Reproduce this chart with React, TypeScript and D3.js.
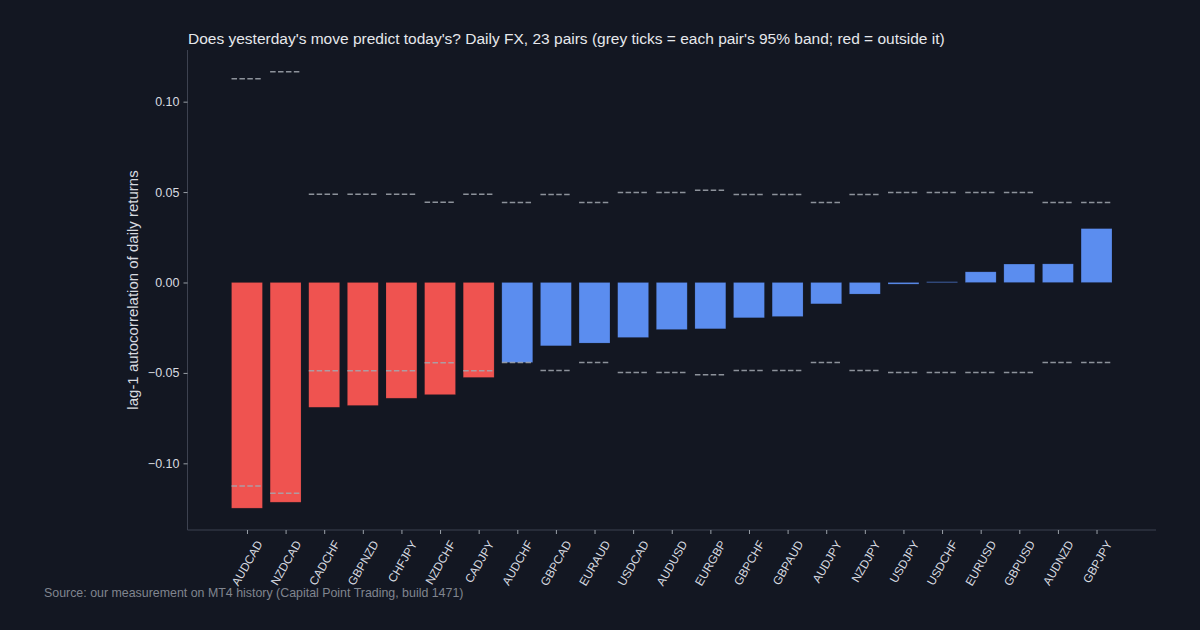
import React, { useEffect, useRef } from 'react';
import * as d3 from 'd3';

// pairs sorted by lag-1 autocorrelation
const pairs = [
  'AUDCAD', 'NZDCAD', 'CADCHF', 'GBPNZD', 'CHFJPY', 'NZDCHF', 'CADJPY', 'AUDCHF',
  'GBPCAD', 'EURAUD', 'USDCAD', 'AUDUSD', 'EURGBP', 'GBPCHF', 'GBPAUD', 'AUDJPY',
  'NZDJPY', 'USDJPY', 'USDCHF', 'EURUSD', 'GBPUSD', 'AUDNZD', 'GBPJPY',
];
const autocorr = [
  -0.1248, -0.1215, -0.069, -0.068, -0.064, -0.062, -0.0525, -0.0442,
  -0.035, -0.0335, -0.0304, -0.026, -0.0256, -0.0195, -0.0188, -0.0118,
  -0.0064, -0.0009, 0.0004, 0.0059, 0.0102, 0.0103, 0.0298,
];
// half-width of each pair's 95% band (1.96 / sqrt(n))
const band = [
  0.1126, 0.1165, 0.0488, 0.0488, 0.0488, 0.0444, 0.0488, 0.0443,
  0.0487, 0.0443, 0.0498, 0.0498, 0.051, 0.0487, 0.0487, 0.0443,
  0.0487, 0.0498, 0.0498, 0.0498, 0.0498, 0.0443, 0.0443,
];
const yTicks = [-0.1, -0.05, 0, 0.05, 0.1];

const W = 1200;
const H = 630;
const BG = '#131722';
const RED = '#ef5350';
const BLUE = '#5b8def';
const FONT = '"Liberation Sans", Arial, sans-serif';

const App = () => {
  const svgRef = useRef<SVGSVGElement | null>(null);

  useEffect(() => {
    const svg = d3.select(svgRef.current);
    svg.selectAll('*').remove();

    const margin = { top: 50, right: 44, bottom: 100, left: 187.5 };
    const data = pairs.map((p, i) => ({ pair: p, i, v: autocorr[i], b: band[i] }));

    // matplotlib-style 5% auto margins
    const lo = d3.min(data, d => Math.min(d.v, -d.b)) as number;
    const hi = d3.max(data, d => Math.max(d.v, d.b)) as number;
    const pad = (hi - lo) * 0.05;
    const y = d3.scaleLinear().domain([lo - pad, hi + pad]).range([H - margin.bottom, margin.top]);

    const barW = 0.8;
    const xlo = -barW / 2, xhi = pairs.length - 1 + barW / 2;
    const xpad = (xhi - xlo) * 0.05;
    const x = d3.scaleLinear().domain([xlo - xpad, xhi + xpad]).range([margin.left, W - margin.right]);
    const bw = x(barW) - x(0);

    svg.append('rect').attr('width', W).attr('height', H).attr('fill', BG);

    svg.selectAll('.bar')
      .data(data)
      .enter()
      .append('rect')
      .attr('class', 'bar')
      .attr('x', d => x(d.i) - bw / 2)
      .attr('y', d => y(Math.max(0, d.v)))
      .attr('width', bw)
      .attr('height', d => Math.abs(y(d.v) - y(0)))
      .attr('fill', d => (Math.abs(d.v) > d.b ? RED : BLUE))
      .attr('stroke', BG)
      .attr('stroke-opacity', 0.25)
      .attr('stroke-width', 0.6);

    // band ticks above and below zero
    const bands = data.flatMap(d => [{ i: d.i, v: d.b }, { i: d.i, v: -d.b }]);
    svg.selectAll('.band')
      .data(bands)
      .enter()
      .append('line')
      .attr('class', 'band')
      .attr('x1', d => x(d.i) - bw / 2)
      .attr('x2', d => x(d.i) + bw / 2)
      .attr('y1', d => y(d.v))
      .attr('y2', d => y(d.v))
      .attr('stroke', '#a3a8b0')
      .attr('stroke-opacity', 0.85)
      .attr('stroke-width', 1.5)
      .attr('stroke-dasharray', '5.5,2.4');

    // y axis
    const yAxis = svg.append('g')
      .attr('transform', `translate(${margin.left},0)`)
      .call(d3.axisLeft(y).tickValues(yTicks).tickFormat(d3.format('.2f')).tickSize(4).tickPadding(4));
    yAxis.select('.domain').attr('stroke', '#3d4250').attr('d', `M0,${margin.top}V${H - margin.bottom}`);
    yAxis.selectAll('.tick line').attr('stroke', '#9aa0a8');
    yAxis.selectAll('.tick text')
      .attr('fill', '#d8dbe0')
      .style('font-family', FONT)
      .style('font-size', '12.5px');

    // x axis
    const xAxis = svg.append('g')
      .attr('transform', `translate(0,${H - margin.bottom})`)
      .call(d3.axisBottom(x).tickValues(d3.range(pairs.length)).tickFormat(i => pairs[i as number]).tickSize(4).tickPadding(3));
    xAxis.select('.domain').attr('stroke', '#3d4250').attr('d', `M${margin.left},0H${W - margin.right}`);
    xAxis.selectAll('.tick line').attr('stroke', '#9aa0a8');
    xAxis.selectAll('.tick text')
      .attr('fill', '#d8dbe0')
      .style('font-family', FONT)
      .style('font-size', '11.8px')
      .attr('text-anchor', 'end')
      .attr('dy', '0.35em')
      .attr('transform', 'translate(6,8) rotate(-60)');

    svg.append('text')
      .attr('transform', `translate(138,${(margin.top + H - margin.bottom) / 2}) rotate(-90)`)
      .attr('text-anchor', 'middle')
      .attr('fill', '#d8dbe0')
      .style('font-family', FONT)
      .style('font-size', '15px')
      .text('lag-1 autocorrelation of daily returns');

    svg.append('text')
      .attr('x', 188)
      .attr('y', 43.5)
      .attr('fill', '#e6e8ec')
      .style('font-family', FONT)
      .style('font-size', '15.5px')
      .text("Does yesterday's move predict today's? Daily FX, 23 pairs (grey ticks = each pair's 95% band; red = outside it)");

    svg.append('text')
      .attr('x', 44)
      .attr('y', 597)
      .attr('fill', '#80858f')
      .style('font-family', FONT)
      .style('font-size', '12.4px')
      .text('Source: our measurement on MT4 history (Capital Point Trading, build 1471)');
  }, []);

  return (
    <svg
      ref={svgRef}
      width={W}
      height={H}
      style={{ position: 'absolute', left: 0, top: 0, display: 'block' }}
    />
  );
};

export default App;
